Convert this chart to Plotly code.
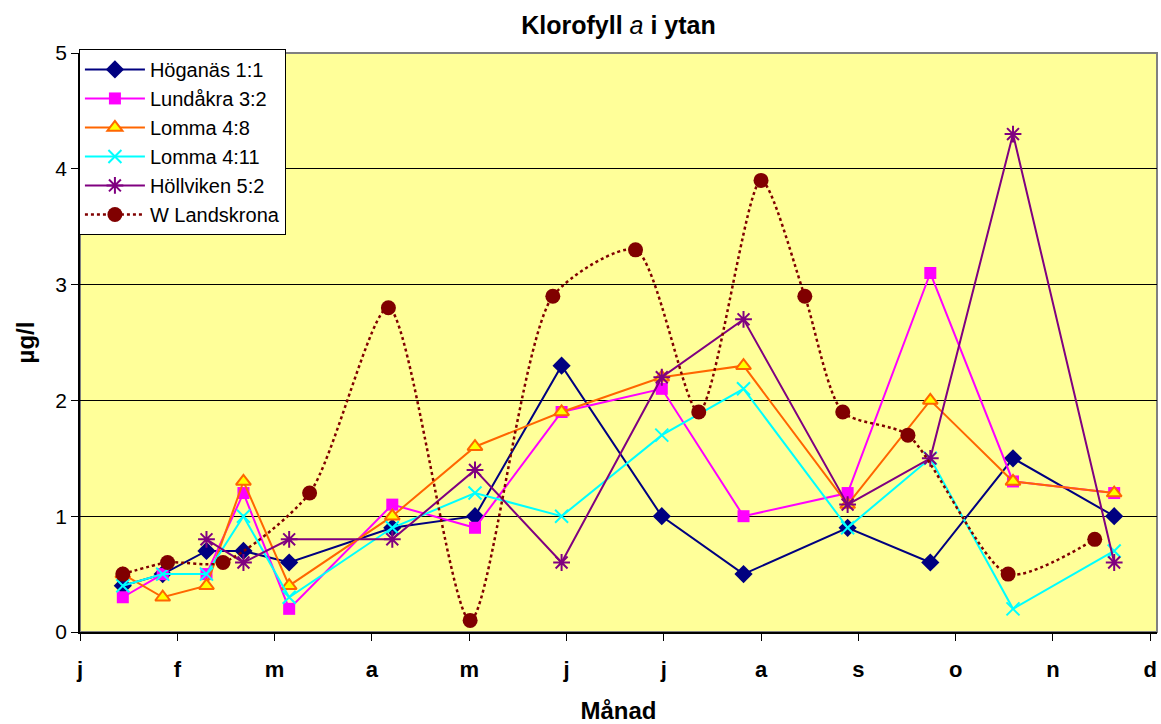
import plotly.graph_objects as go

month_labels = ["j", "f", "m", "a", "m", "j", "j", "a", "s", "o", "n", "d"]
month_pos = list(range(12))

x_std = [0.44, 0.85, 1.30, 1.68, 2.15, 3.21, 4.06, 4.95, 5.98, 6.82, 7.89, 8.74, 9.59, 10.63]
hoganas = [0.4, 0.5, 0.7, 0.7, 0.6, 0.9, 1.0, 2.3, 1.0, 0.5, 0.9, 0.6, 1.5, 1.0]
lundakra = [0.3, 0.5, 0.5, 1.2, 0.2, 1.1, 0.9, 1.9, 2.1, 1.0, 1.2, 3.1, 1.3, 1.2]
lomma48 = [0.5, 0.3, 0.4, 1.3, 0.4, 1.0, 1.6, 1.9, 2.2, 2.3, 1.1, 2.0, 1.3, 1.2]
lomma411 = [0.4, 0.5, 0.5, 1.0, 0.3, 0.9, 1.2, 1.0, 1.7, 2.1, 0.9, 1.5, 0.2, 0.7]

x_hollviken = [1.30, 1.68, 2.15, 3.21, 4.06, 4.95, 5.98, 6.82, 7.89, 8.74, 9.59, 10.63]
hollviken = [0.8, 0.6, 0.8, 0.8, 1.4, 0.6, 2.2, 2.7, 1.1, 1.5, 4.3, 0.6]

x_landskrona = [0.44, 0.90, 1.47, 2.36, 3.17, 4.01, 4.86, 5.71, 6.36, 7.00, 7.45, 7.84, 8.51, 9.54, 10.43]
landskrona = [0.5, 0.6, 0.6, 1.2, 2.8, 0.1, 2.9, 3.3, 1.9, 3.9, 2.9, 1.9, 1.7, 0.5, 0.8]

FONT = "Liberation Sans, Arial, sans-serif"

fig = go.Figure()

fig.add_trace(go.Scatter(
    x=x_std, y=hoganas, name="Höganäs 1:1", mode="lines+markers",
    line=dict(color="#000080", width=2),
    marker=dict(symbol="diamond", size=14, color="#000080")))
fig.add_trace(go.Scatter(
    x=x_std, y=lundakra, name="Lundåkra 3:2", mode="lines+markers",
    line=dict(color="#FF00FF", width=2),
    marker=dict(symbol="square", size=12, color="#FF00FF")))
fig.add_trace(go.Scatter(
    x=x_std, y=lomma48, name="Lomma 4:8", mode="lines+markers",
    line=dict(color="#FF6600", width=2),
    marker=dict(symbol="triangle-up", size=13, color="#FFFF00",
                line=dict(color="#FF6600", width=2))))
fig.add_trace(go.Scatter(
    x=x_std, y=lomma411, name="Lomma 4:11", mode="lines+markers",
    line=dict(color="#00FFFF", width=2),
    marker=dict(symbol="x-thin-open", size=13, color="#00FFFF",
                line=dict(color="#00FFFF", width=2))))
fig.add_trace(go.Scatter(
    x=x_hollviken, y=hollviken, name="Höllviken 5:2", mode="lines+markers",
    line=dict(color="#800080", width=2),
    marker=dict(symbol="asterisk-open", size=14, color="#800080",
                line=dict(color="#800080", width=2))))
fig.add_trace(go.Scatter(
    x=x_landskrona, y=landskrona, name="W Landskrona", mode="lines+markers",
    line=dict(color="#800000", width=2.5, dash="dot", shape="spline", smoothing=0.7),
    marker=dict(symbol="circle", size=15, color="#800000")))

fig.update_layout(
    width=1161, height=724,
    paper_bgcolor="white", plot_bgcolor="#FFFF99",
    margin=dict(l=80, r=4, t=53, b=92, autoexpand=False),
    font=dict(family=FONT, color="black", size=20),
    title=dict(text="<b>Klorofyll </b><i>a</i><b> i ytan</b>", x=0.5, xref="paper",
               y=0.965, yanchor="middle", font=dict(size=25, family=FONT),
               automargin=False),
    showlegend=True,
    legend=dict(x=-0.001, y=1.007, xanchor="left", yanchor="top",
                bgcolor="white", bordercolor="black", borderwidth=1,
                font=dict(size=20, family=FONT), tracegroupgap=0,
                itemwidth=60),
    shapes=[dict(type="rect", xref="paper", yref="paper", x0=0, x1=1, y0=0, y1=1,
                 line=dict(color="#808080", width=2), layer="below")],
)

fig.update_xaxes(
    range=[0, 11.07], tickmode="array", tickvals=month_pos, ticktext=month_labels,
    showgrid=False, zeroline=False, showline=True, linecolor="black", linewidth=1.5,
    ticks="outside", ticklen=7, tickcolor="black", ticklabelstandoff=10,
    tickfont=dict(size=22, family=FONT, weight="bold"), automargin=False,
    title=dict(text="<b>Månad</b>", font=dict(size=24, family=FONT), standoff=25),
)
fig.update_yaxes(
    range=[0, 5], tickmode="array", tickvals=[0, 1, 2, 3, 4, 5],
    showgrid=True, gridcolor="black", gridwidth=1, zeroline=False,
    showline=True, linecolor="black", linewidth=1.5,
    ticks="outside", ticklen=7, tickcolor="black", automargin=False,
    tickfont=dict(size=21, family=FONT),
    title=dict(text="<b>µg/l</b>", font=dict(size=24, family=FONT), standoff=14),
)

fig.write_html("out.html", config={"displayModeBar": False},
               post_script="document.body.style.margin='0';")
